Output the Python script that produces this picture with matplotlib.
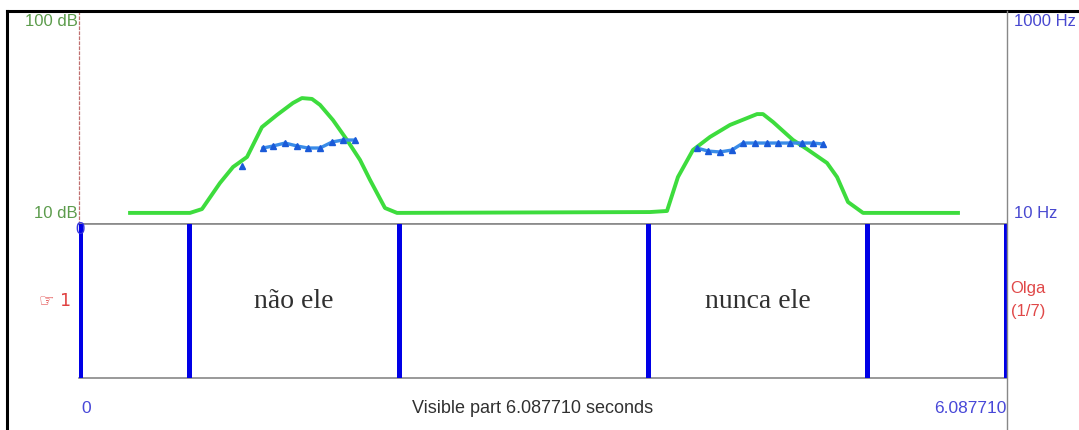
import numpy as np
import matplotlib.pyplot as plt
from matplotlib.lines import Line2D

plt.rcParams['font.family'] = ['Liberation Sans', 'DejaVu Sans']

# total visible duration (s)
duration = 6.087710

# intensity contour (time s, dB)
int_t = [0.329, 0.723, 0.802, 0.920, 1.006, 1.098, 1.196, 1.295, 1.400, 1.459,
         1.525, 1.578, 1.663, 1.755, 1.841, 1.907, 2.005, 2.084, 3.747, 3.859,
         3.931, 4.030, 4.142, 4.273, 4.451, 4.490, 4.556, 4.687, 4.779, 4.911,
         4.977, 5.049, 5.148, 5.772]
int_db = [9.6, 9.6, 11.4, 23.6, 31.1, 35.8, 49.8, 55.5, 61.1, 63.4,
          63.0, 60.2, 53.1, 43.8, 34.4, 25.0, 11.9, 9.6, 10.0, 10.5,
          26.4, 39.1, 45.2, 50.8, 55.9, 55.9, 52.2, 43.8, 39.5, 33.0,
          26.4, 14.7, 9.6, 9.6]

# pitch contour (time s, Hz); nan breaks the line
f0_t = [1.065, np.nan, 1.203, 1.269, 1.348, 1.427, 1.499, 1.578, 1.657, 1.729, 1.808, np.nan,
        4.056, 4.129, 4.207, 4.286, 4.359, 4.438, 4.516, 4.589, 4.668, 4.747, 4.819, 4.885]
f0_hz = [30.1, np.nan, 46.4, 48.7, 52.3, 48.7, 46.4, 46.4, 53.6, 56.2, 56.2, np.nan,
         46.4, 43.1, 42.2, 44.2, 52.3, 52.3, 52.3, 52.3, 52.3, 52.3, 52.3, 51.1]

# tier boundaries and labels
bounds = [0.0, 0.716, 2.097, 3.734, 5.174, duration]
words = ['', 'não ele', '', 'nunca ele', '']

W, H = 1079, 430
fig = plt.figure(figsize=(W / 100, H / 100), dpi=100)
fig.patch.set_facecolor('white')

def box(x0, y0, x1, y1):
    # pixel box (top-left origin) -> figure fraction rect
    return [x0 / W, 1 - y1 / H, (x1 - x0) / W, (y1 - y0) / H]

pps = 926 / duration
xlim = (-1 / pps, duration + 1 / pps)

# --- top panel: intensity + pitch ---
ax = fig.add_axes(box(79, 11, 1007, 224))
ax.set_xlim(*xlim)
ax.set_ylim(4.4, 104.2)
ax.plot(int_t, int_db, color='#3ddc3d', lw=2.8, solid_joinstyle='round')
ax.set_xticks([])
ax.set_yticks([10, 100], ['10 dB', '100 dB'])
ax.tick_params(axis='y', length=0, pad=1, labelsize=12, labelcolor='#5c9c4c')
for s in ['top', 'right']:
    ax.spines[s].set_visible(False)
ax.spines['left'].set_color('#c07070')
ax.spines['left'].set_linestyle((0, (2, 2)))
ax.spines['left'].set_linewidth(0.9)
ax.spines['bottom'].set_color('#888888')
ax.spines['bottom'].set_linewidth(1.2)

ax2 = ax.twinx()
ax2.set_yscale('log')
ax2.set_ylim(7.5, 1241)
ax2.plot(f0_t, f0_hz, color='#3a8ce8', lw=2.4, marker='^', ms=4,
         mfc='#1a5ad8', mec='#1a5ad8')
ax2.set_yticks([10, 1000], ['10 Hz', '1000 Hz'])
ax2.minorticks_off()
ax2.tick_params(axis='y', length=0, pad=5, labelsize=12, labelcolor='#4848d0')
for s in ['top', 'left', 'bottom', 'right']:
    ax2.spines[s].set_visible(False)

# --- bottom panel: word tier ---
tx = fig.add_axes(box(79, 224, 1007, 378))
tx.set_xlim(*xlim)
tx.set_ylim(0, 1)
tx.set_xticks([])
tx.set_yticks([])
for s in ['left', 'right']:
    tx.spines[s].set_visible(False)
for s in ['top', 'bottom']:
    tx.spines[s].set_color('#888888')
    tx.spines[s].set_linewidth(1.2)
tx.vlines(bounds, 0, 1, colors='#0000e6', lw=3.6, capstyle='round', zorder=3)
for a, b, w in zip(bounds[:-1], bounds[1:], words):
    if w:
        tx.text((a + b) / 2, 0.5, w, ha='center', va='center',
                fontsize=20, family='Liberation Serif', color='#303030')
tx.text(0.0, 0.965, '0', ha='center', va='center', fontsize=12,
        color='#3535e0', zorder=4)
tx.text(-0.06, 0.5, '\u261e 1', ha='right', va='center', fontsize=12.5,
        color='#e04040', family=['DejaVu Sans'])
tx.text(duration + 0.03, 0.58, 'Olga', ha='left', va='center', fontsize=12,
        color='#e04848')
tx.text(duration + 0.03, 0.43, '(1/7)', ha='left', va='center', fontsize=12,
        color='#e04848')

# time readout under the tier
tx.text(0.04, -0.2, '0', ha='center', va='center', fontsize=12.5, color='#4848d8')
tx.text(duration, -0.2, '%.6f' % duration, ha='right', va='center', fontsize=12.5,
        color='#4848d8')
tx.text(duration / 2 - 0.07, -0.2, 'Visible part %.6f seconds' % duration,
        ha='center', va='center', fontsize=13, color='#303030')

# --- outer frame, drawn over the panels ---
frame = fig.add_axes([0, 0, 1, 1])
frame.set_xlim(0, W)
frame.set_ylim(H, 0)
frame.axis('off')
frame.patch.set_alpha(0)
frame.add_line(Line2D([7, W], [11, 11], color='black', lw=2.2))
frame.add_line(Line2D([7, 7], [11, H], color='black', lw=2.2))
frame.add_line(Line2D([1007, 1007], [11, H], color='#888888', lw=1.0))

fig.savefig('out.png', dpi=100, facecolor='white')
